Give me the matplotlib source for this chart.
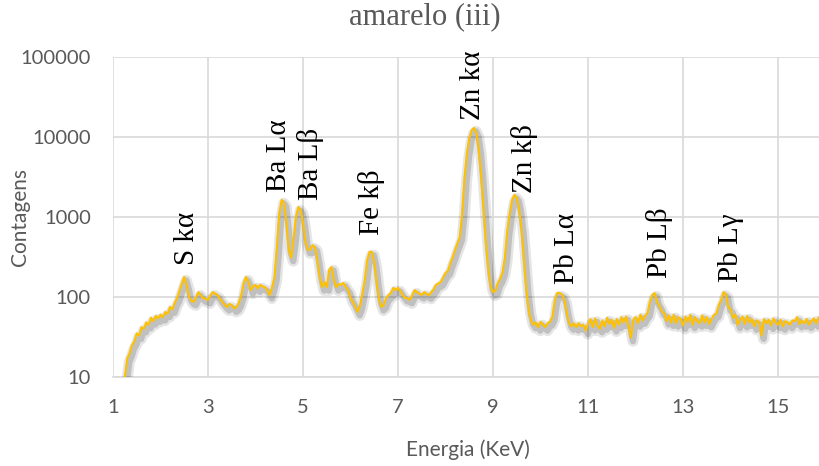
#==============================================================
# Espectro XRF - amarelo (iii)
# Contagens em escala log x energia (KeV)
#==============================================================
import numpy as np
import matplotlib
matplotlib.use('Agg')
import matplotlib.pyplot as plt
import matplotlib.patheffects as pe

#--------------------------------------------------------------
# Dados (energia em KeV, contagens)
#--------------------------------------------------------------
energia = [
    1.25, 1.30, 1.35, 1.40, 1.45, 1.50, 1.55, 1.60, 1.65, 1.70, 1.75, 1.80, 1.85, 1.90, 1.95,
    2.00, 2.05, 2.10, 2.15, 2.20, 2.25, 2.30, 2.35, 2.40, 2.45, 2.50, 2.55, 2.60, 2.65, 2.70,
    2.75, 2.80, 2.85, 2.90, 2.95, 3.00, 3.05, 3.10, 3.15, 3.20, 3.25, 3.30, 3.35, 3.40, 3.45,
    3.50, 3.55, 3.60, 3.65, 3.70, 3.75, 3.80, 3.85, 3.90, 3.95, 4.00, 4.05, 4.10, 4.15, 4.20,
    4.25, 4.30, 4.35, 4.40, 4.45, 4.50, 4.55, 4.60, 4.65, 4.70, 4.75, 4.80, 4.85, 4.90, 4.95,
    5.00, 5.05, 5.10, 5.15, 5.20, 5.25, 5.30, 5.35, 5.40, 5.45, 5.50, 5.55, 5.60, 5.65, 5.70,
    5.75, 5.80, 5.85, 5.90, 5.95, 6.00, 6.05, 6.10, 6.15, 6.20, 6.25, 6.30, 6.35, 6.40, 6.45,
    6.50, 6.55, 6.60, 6.65, 6.70, 6.75, 6.80, 6.85, 6.90, 6.95, 7.00, 7.05, 7.10, 7.15, 7.20,
    7.25, 7.30, 7.35, 7.40, 7.45, 7.50, 7.55, 7.60, 7.65, 7.70, 7.75, 7.80, 7.85, 7.90, 7.95,
    8.00, 8.05, 8.10, 8.15, 8.20, 8.25, 8.30, 8.35, 8.40, 8.45, 8.50, 8.55, 8.60, 8.65, 8.70,
    8.75, 8.80, 8.85, 8.90, 8.95, 9.00, 9.05, 9.10, 9.15, 9.20, 9.25, 9.30, 9.35, 9.40, 9.45,
    9.50, 9.55, 9.60, 9.65, 9.70, 9.75, 9.80, 9.85, 9.90, 9.95, 10.00, 10.05, 10.10, 10.15, 10.20,
    10.25, 10.30, 10.35, 10.40, 10.45, 10.50, 10.55, 10.60, 10.65, 10.70, 10.75, 10.80, 10.85, 10.90, 10.95,
    11.00, 11.05, 11.10, 11.15, 11.20, 11.25, 11.30, 11.35, 11.40, 11.45, 11.50, 11.55, 11.60, 11.65, 11.70,
    11.75, 11.80, 11.85, 11.90, 11.95, 12.00, 12.05, 12.10, 12.15, 12.20, 12.25, 12.30, 12.35, 12.40, 12.45,
    12.50, 12.55, 12.60, 12.65, 12.70, 12.75, 12.80, 12.85, 12.90, 12.95, 13.00, 13.05, 13.10, 13.15, 13.20,
    13.25, 13.30, 13.35, 13.40, 13.45, 13.50, 13.55, 13.60, 13.65, 13.70, 13.75, 13.80, 13.85, 13.90, 13.95,
    14.00, 14.05, 14.10, 14.15, 14.20, 14.25, 14.30, 14.35, 14.40, 14.45, 14.50, 14.55, 14.60, 14.65, 14.70,
    14.75, 14.80, 14.85, 14.90, 14.95, 15.00, 15.05, 15.10, 15.15, 15.20, 15.25, 15.30, 15.35, 15.40, 15.45,
    15.50, 15.55, 15.60, 15.65, 15.70, 15.75, 15.80, 15.85, 15.90,
]
contagens = [
    10, 17, 20, 25, 28, 35, 33, 42, 40, 48, 45, 55, 50, 58, 54,
    60, 56, 65, 62, 75, 70, 85, 97, 120, 149, 178, 140, 100, 90, 87,
    100, 115, 105, 97, 95, 92, 105, 115, 110, 106, 95, 87, 80, 75, 82,
    79, 72, 75, 85, 106, 150, 178, 154, 122, 135, 142, 128, 142, 135, 133,
    120, 106, 133, 178, 420, 1120, 1640, 1500, 840, 390, 310, 520, 1000, 1330, 1220,
    840, 490, 390, 390, 445, 420, 290, 178, 133, 154, 133, 218, 237, 163, 133,
    145, 142, 150, 133, 122, 97, 87, 75, 65, 79, 112, 163, 290, 366, 366,
    265, 150, 92, 75, 80, 97, 106, 112, 130, 122, 130, 118, 106, 97, 97,
    92, 106, 122, 115, 110, 106, 115, 110, 105, 115, 125, 142, 148, 154, 175,
    200, 212, 265, 315, 390, 470, 565, 1120, 3160, 6300, 9700, 12200, 13000, 11200, 6900,
    3200, 1220, 470, 218, 133, 115, 120, 150, 170, 205, 315, 690, 1120, 1640, 1890,
    1730, 1220, 690, 290, 122, 68, 50, 45, 48, 42, 49, 45, 42, 47, 49,
    57, 92, 112, 112, 108, 92, 63, 47, 43, 47, 42, 47, 43, 45, 38,
    47, 53, 42, 54, 44, 40, 51, 43, 55, 46, 52, 41, 53, 45, 56,
    48, 57, 44, 31, 52, 56, 47, 60, 51, 58, 63, 87, 106, 112, 87,
    78, 66, 63, 50, 59, 48, 60, 47, 56, 53, 44, 57, 49, 60, 45,
    56, 50, 47, 59, 48, 56, 46, 53, 60, 62, 79, 92, 115, 108, 75,
    70, 55, 60, 45, 52, 57, 46, 58, 48, 53, 43, 51, 49, 33, 53,
    47, 52, 44, 54, 48, 45, 52, 43, 50, 48, 45, 51, 50, 56, 46,
    51, 47, 53, 45, 50, 54, 47, 55, 57,
]

# Rotulos dos picos (texto, energia, contagem na base do texto)
picos_texto = ['S k\u03b1', 'Ba L\u03b1', 'Ba L\u03b2', 'Fe k\u03b2', 'Zn k\u03b1',
               'Zn k\u03b2', 'Pb L\u03b1', 'Pb L\u03b2', 'Pb L\u03b3']
picos_x = [2.55, 4.5, 5.15, 6.45, 8.58, 9.67, 10.56, 12.5, 14.0]
picos_y = [251, 2050, 1630, 596, 16300, 2000, 145, 173, 152]

xticks = [1, 3, 5, 7, 9, 11, 13, 15]
yticks = [10, 100, 1000, 10000, 100000]

#--------------------------------------------------------------
# Figura
#--------------------------------------------------------------
W, H = 820, 466
fig = plt.figure(figsize=(W / 100, H / 100), dpi=100)
ax = fig.add_axes([113 / W, 1 - 377 / H, (W - 113) / W, (377 - 57) / H])

cinza_txt = '#595959'
cinza_grade = '#D9D9D9'

# linha com sombra (estilo Excel)
ax.plot(energia, contagens, color='#FFC000', lw=1.5, zorder=3,
        path_effects=[pe.SimpleLineShadow(offset=(1.5, -2.5), shadow_color='k', alpha=0.10, linewidth=8),
                      pe.SimpleLineShadow(offset=(1.5, -2.5), shadow_color='k', alpha=0.16, linewidth=4.5),
                      pe.Normal()])

ax.set_yscale('log')
ax.set_xlim(1, 15.88)
ax.set_ylim(10, 100000)
ax.set_xticks(xticks)
ax.set_xticklabels([str(v) for v in xticks])
ax.set_yticks(yticks)
ax.set_yticklabels([str(v) for v in yticks])
ax.minorticks_off()
ax.tick_params(length=0, labelsize=14.5, labelcolor=cinza_txt, pad=16)
for lab in ax.get_xticklabels() + ax.get_yticklabels():
    lab.set_family('Lato')

ax.grid(True, color=cinza_grade, lw=1.2, zorder=0)
ax.set_axisbelow(True)
for s in ['top', 'right', 'left']:
    ax.spines[s].set_visible(False)
ax.spines['bottom'].set_color(cinza_grade)
ax.spines['bottom'].set_linewidth(1.2)

# Rotulos dos picos
for txt, x, y in zip(picos_texto, picos_x, picos_y):
    ax.text(x, y, txt, rotation=90, ha='center', va='bottom',
            fontsize=21, family='Liberation Serif', color='black', zorder=4)

# Titulo e eixos
fig.text(425 / W, 1 - 17 / H, 'amarelo (iii)', ha='center', va='center',
         fontsize=22, family='Liberation Serif', color=cinza_txt)
fig.text(468 / W, 1 - 450 / H, 'Energia (KeV)', ha='center', va='center',
         fontsize=15, family='Lato', color=cinza_txt)
fig.text(20 / W, 1 - 217 / H, 'Contagens', ha='center', va='center', rotation=90,
         fontsize=15, family='Lato', color=cinza_txt)

fig.savefig('out.png', dpi=100)
